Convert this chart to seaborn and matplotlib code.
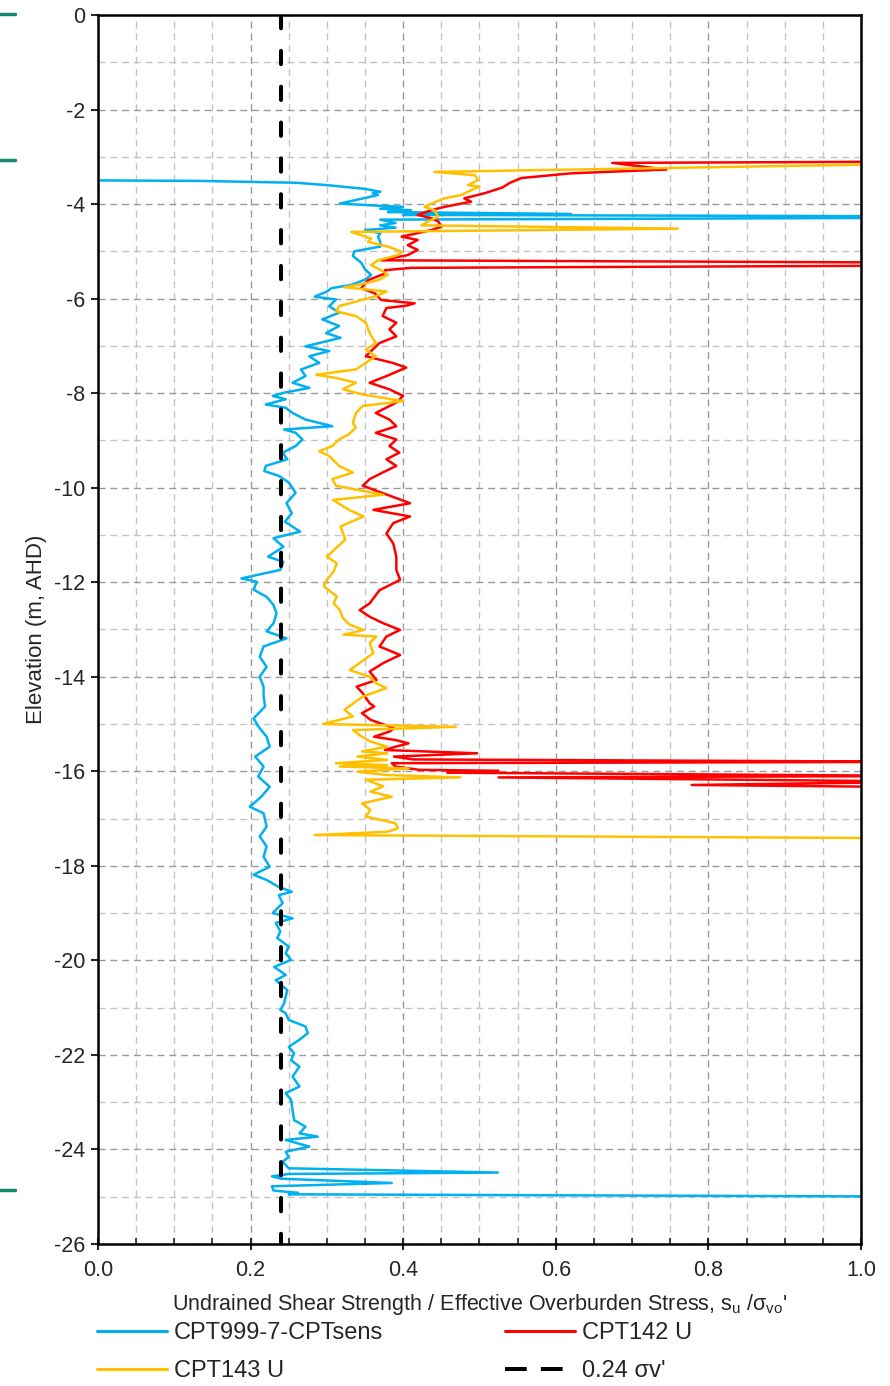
import matplotlib
matplotlib.use("Agg")
import matplotlib.pyplot as plt
import seaborn as sns
from matplotlib.lines import Line2D
from matplotlib.ticker import MultipleLocator

# --- Дані ---

blue_su = [0.00, 0.13, 0.26, 0.30, 0.35, 0.37, 0.36, 0.367, 0.317, 0.36, 0.40, 0.37, 0.41, 0.38,
           0.62, 0.40, 1.10, 1.10, 0.37, 0.39, 0.37, 0.39, 0.35, 0.37, 0.367, 0.37, 0.37, 0.336,
           0.334, 0.345, 0.35, 0.358, 0.35, 0.332, 0.306, 0.30, 0.284, 0.312, 0.303, 0.316, 0.294,
           0.316, 0.299, 0.318, 0.272, 0.303, 0.277, 0.290, 0.266, 0.272, 0.255, 0.277, 0.244, 0.229,
           0.246, 0.220, 0.246, 0.255, 0.272, 0.307, 0.244, 0.259, 0.268, 0.259, 0.242, 0.248, 0.220,
           0.218, 0.237, 0.250, 0.259, 0.247, 0.254, 0.245, 0.265, 0.230, 0.243, 0.223, 0.243, 0.239,
           0.188, 0.208, 0.204, 0.221, 0.230, 0.234, 0.230, 0.221, 0.247, 0.217, 0.212, 0.221, 0.212,
           0.217, 0.217, 0.219, 0.204, 0.210, 0.221, 0.225, 0.206, 0.217, 0.210, 0.225, 0.214, 0.199,
           0.217, 0.221, 0.212, 0.221, 0.217, 0.225, 0.204, 0.221, 0.236, 0.254, 0.237, 0.242, 0.229,
           0.255, 0.233, 0.239, 0.235, 0.250, 0.246, 0.253, 0.231, 0.246, 0.233, 0.248, 0.246, 0.244,
           0.239, 0.246, 0.250, 0.272, 0.275, 0.264, 0.250, 0.257, 0.253, 0.264, 0.255, 0.264, 0.246,
           0.253, 0.255, 0.257, 0.272, 0.264, 0.288, 0.246, 0.277, 0.246, 0.250, 0.242, 0.250, 0.524,
           0.250, 0.228, 0.240, 0.385, 0.228, 0.230, 0.262, 0.250, 1.10]
blue_elev = [-3.50, -3.51, -3.55, -3.60, -3.68, -3.74, -3.77, -3.81, -3.99, -4.03, -4.06, -4.10, -4.13, -4.17,
             -4.21, -4.23, -4.26, -4.29, -4.33, -4.40, -4.45, -4.50, -4.55, -4.62, -4.69, -4.80, -4.90, -5.00,
             -5.10, -5.24, -5.38, -5.50, -5.60, -5.71, -5.78, -5.85, -5.96, -6.02, -6.16, -6.30, -6.44,
             -6.58, -6.73, -6.83, -7.01, -7.11, -7.22, -7.36, -7.50, -7.64, -7.78, -7.89, -7.99, -8.06,
             -8.13, -8.24, -8.31, -8.42, -8.56, -8.70, -8.77, -8.84, -8.98, -9.12, -9.26, -9.40, -9.54,
             -9.65, -9.75, -9.89, -10.11, -10.33, -10.54, -10.72, -10.93, -11.07, -11.25, -11.46, -11.57, -11.74,
             -11.92, -11.99, -12.16, -12.31, -12.48, -12.66, -12.87, -13.04, -13.19, -13.36, -13.58, -13.79, -14.00,
             -14.21, -14.42, -14.63, -14.88, -15.05, -15.27, -15.48, -15.69, -15.90, -16.11, -16.33, -16.54, -16.75,
             -16.89, -17.17, -17.38, -17.59, -17.81, -18.02, -18.19, -18.30, -18.44, -18.55, -18.62, -18.79, -19.00,
             -19.11, -19.21, -19.39, -19.53, -19.71, -19.85, -19.99, -20.14, -20.31, -20.42, -20.63, -20.77, -20.91,
             -21.05, -21.12, -21.26, -21.40, -21.54, -21.68, -21.83, -21.97, -22.11, -22.25, -22.46, -22.67, -22.81,
             -22.95, -23.17, -23.38, -23.52, -23.66, -23.73, -23.80, -23.94, -24.05, -24.16, -24.26, -24.40, -24.49,
             -24.52, -24.57, -24.62, -24.71, -24.78, -24.87, -24.92, -24.95, -25.00]

red_su = [1.10, 0.674, 0.745, 0.62, 0.555, 0.54, 0.53, 0.507, 0.48, 0.489, 0.454, 0.437, 0.419, 0.437,
          0.446, 0.45, 0.437, 0.398, 0.419, 0.406, 0.419, 0.406, 0.371, 1.10, 1.10, 0.41, 0.376, 0.376,
          0.354, 0.345, 0.363, 0.371, 0.415, 0.404, 0.378, 0.373, 0.391, 0.382, 0.391, 0.369, 0.360,
          0.351, 0.386, 0.404, 0.378, 0.356, 0.382, 0.400, 0.391, 0.364, 0.382, 0.391, 0.364, 0.391,
          0.382, 0.395, 0.378, 0.391, 0.373, 0.356, 0.347, 0.374, 0.409, 0.361, 0.409, 0.387, 0.378,
          0.387, 0.391, 0.391, 0.396, 0.369, 0.356, 0.343, 0.356, 0.374, 0.396, 0.378, 0.369, 0.396,
          0.374, 0.356, 0.365, 0.339, 0.347, 0.356, 0.362, 0.346, 0.357, 0.374, 0.388, 0.382, 0.362,
          0.390, 0.407, 0.390, 0.376, 0.497, 0.388, 0.413, 1.10, 0.385, 0.390, 0.421, 0.525, 0.458,
          1.10, 0.525, 1.10, 0.778, 1.10]
red_elev = [-3.10, -3.13, -3.27, -3.35, -3.45, -3.55, -3.65, -3.77, -3.88, -3.95, -4.06, -4.13, -4.23, -4.30,
            -4.37, -4.48, -4.55, -4.69, -4.76, -4.87, -4.97, -5.08, -5.19, -5.24, -5.30, -5.35, -5.40, -5.47,
            -5.61, -5.78, -5.89, -6.03, -6.10, -6.15, -6.20, -6.37, -6.51, -6.65, -6.80, -6.94, -7.08,
            -7.22, -7.36, -7.46, -7.64, -7.78, -7.92, -8.06, -8.20, -8.42, -8.56, -8.70, -8.84, -8.98,
            -9.12, -9.26, -9.40, -9.54, -9.68, -9.82, -9.96, -10.12, -10.33, -10.47, -10.61, -10.75, -10.97,
            -11.18, -11.46, -11.74, -11.95, -12.17, -12.45, -12.59, -12.73, -12.87, -13.01, -13.15, -13.36, -13.54,
            -13.71, -13.89, -14.07, -14.21, -14.35, -14.56, -14.63, -14.77, -14.91, -15.01, -15.09, -15.16, -15.27,
            -15.34, -15.41, -15.48, -15.55, -15.62, -15.69, -15.75, -15.80, -15.83, -15.90, -15.97, -15.99, -16.03,
            -16.10, -16.13, -16.22, -16.29, -16.34]

yellow_su = [1.10, 0.441, 0.494, 0.498, 0.485, 0.50, 0.485, 0.476, 0.454, 0.437, 0.428, 0.441, 0.446,
             0.432, 0.424, 0.76, 0.332, 0.345, 0.358, 0.354, 0.38, 0.398, 0.393, 0.367, 0.358, 0.371,
             0.38, 0.367, 0.35, 0.323, 0.378, 0.364, 0.316, 0.312, 0.338, 0.351, 0.356, 0.364, 0.351,
             0.364, 0.351, 0.338, 0.286, 0.312, 0.338, 0.321, 0.347, 0.400, 0.347, 0.338, 0.334, 0.338,
             0.329, 0.316, 0.307, 0.290, 0.303, 0.316, 0.334, 0.307, 0.312, 0.374, 0.308, 0.329, 0.348,
             0.318, 0.324, 0.300, 0.313, 0.309, 0.300, 0.296, 0.313, 0.309, 0.317, 0.321, 0.330, 0.348,
             0.322, 0.365, 0.356, 0.361, 0.348, 0.330, 0.356, 0.365, 0.378, 0.347, 0.323, 0.334, 0.317,
             0.295, 0.469, 0.334, 0.346, 0.357, 0.379, 0.346, 0.379, 0.340, 0.379, 0.312, 0.379, 0.317,
             0.407, 0.340, 0.379, 0.475, 0.351, 0.374, 0.357, 0.385, 0.346, 0.357, 0.351, 0.390, 0.393,
             0.379, 0.284, 1.10]
yellow_elev = [-3.14, -3.32, -3.39, -3.49, -3.60, -3.63, -3.74, -3.81, -3.88, -3.99, -4.06, -4.13, -4.27,
               -4.37, -4.45, -4.52, -4.59, -4.66, -4.73, -4.80, -4.90, -5.01, -5.08, -5.19, -5.29, -5.40,
               -5.50, -5.61, -5.68, -5.76, -5.85, -5.95, -6.16, -6.27, -6.37, -6.51, -6.73, -6.94, -7.08,
               -7.22, -7.36, -7.50, -7.61, -7.68, -7.78, -7.92, -8.03, -8.17, -8.27, -8.42, -8.63, -8.73,
               -8.87, -8.98, -9.12, -9.23, -9.33, -9.54, -9.68, -9.82, -9.96, -10.15, -10.26, -10.47, -10.61,
               -10.82, -11.10, -11.46, -11.60, -11.77, -11.95, -12.09, -12.30, -12.45, -12.59, -12.76, -12.90, -13.01,
               -13.11, -13.15, -13.29, -13.50, -13.65, -13.86, -14.00, -14.14, -14.24, -14.42, -14.70, -14.84, -14.91,
               -15.00, -15.06, -15.13, -15.27, -15.37, -15.48, -15.58, -15.62, -15.69, -15.76, -15.83, -15.87, -15.90,
               -15.94, -16.01, -16.08, -16.13, -16.18, -16.32, -16.43, -16.54, -16.68, -16.82, -16.96, -17.10, -17.21,
               -17.28, -17.35, -17.42]

ref_su = [0.24, 0.24]
ref_elev = [0.0, -26.0]

series_names = ['CPT999-7-CPTsens', 'CPT142 U', 'CPT143 U', "0.24 σv'"]
series_colors = ['#00B0F0', '#FF0000', '#FFC000', 'black']

# --- Візуалізація ---

sns.set_style('white')
plt.rcParams['font.family'] = ['Liberation Sans', 'DejaVu Sans']
plt.rcParams['axes.unicode_minus'] = False
plt.rcParams['mathtext.fontset'] = 'custom'
plt.rcParams['mathtext.rm'] = 'Liberation Sans'

fig = plt.figure(figsize=(8.9, 13.86), dpi=100)
ax = fig.add_axes([0.1101, 0.1025, 0.8573, 0.8867])

sns.lineplot(x=blue_su, y=blue_elev, sort=False, estimator=None, color=series_colors[0],
             lw=1.8, ax=ax)
sns.lineplot(x=red_su, y=red_elev, sort=False, estimator=None, color=series_colors[1],
             lw=1.8, ax=ax)
sns.lineplot(x=yellow_su, y=yellow_elev, sort=False, estimator=None, color=series_colors[2],
             lw=1.8, ax=ax)
sns.lineplot(x=ref_su, y=ref_elev, sort=False, estimator=None, color=series_colors[3],
             lw=2.9, linestyle=(0, (3.3, 5.6)), dash_capstyle='round', ax=ax)

ax.set_xlim(0, 1)
ax.set_ylim(-26, 0)
ax.xaxis.set_major_locator(MultipleLocator(0.2))
ax.xaxis.set_minor_locator(MultipleLocator(0.05))
ax.yaxis.set_major_locator(MultipleLocator(2))
ax.yaxis.set_minor_locator(MultipleLocator(1))
ax.set_xticklabels([f'{v:.1f}' for v in ax.get_xticks()])
ax.set_yticklabels([f'{v:.0f}' for v in ax.get_yticks()])

ax.grid(which='major', color='#999999', linestyle=(0, (5, 3.5)), lw=1.0)
ax.grid(which='minor', color='#c4c4c4', linestyle=(0, (5, 3.5)), lw=1.0)
ax.set_axisbelow(True)

for s in ax.spines.values():
    s.set_color('black')
    s.set_linewidth(1.8)

ax.tick_params(axis='x', which='major', direction='inout', length=9, width=1.5,
               labelsize=15.5, pad=7, bottom=True)
ax.tick_params(axis='x', which='minor', direction='in', length=4, width=1.2, bottom=True)
ax.tick_params(axis='y', which='major', direction='out', length=5, width=1.5,
               labelsize=15.5, pad=4, left=True)
ax.tick_params(axis='y', which='minor', left=False)

ax.set_xlabel(r"Undrained Shear Strength / Effective Overburden Stress, s$_\mathregular{u}$ /σ$_\mathregular{vo}$'",
              fontsize=15.5, labelpad=8)
ax.set_ylabel('Elevation (m, AHD)', fontsize=16, labelpad=5)

# легенда: дві колонки, кожна окремо
leg_lines = [Line2D([], [], color=c, lw=2.2) for c in series_colors[:3]]
leg_lines.append(Line2D([], [], color='black', lw=2.9, linestyle=(0, (5.4, 3.5)),
                        dash_capstyle='butt'))
leg_kw = dict(loc='upper left', frameon=False, fontsize=17, handlelength=2.95,
              handletextpad=0.3, labelspacing=0.68, borderpad=0, borderaxespad=0)
fig.legend([leg_lines[0], leg_lines[2]], [series_names[0], series_names[2]],
           bbox_to_anchor=(97 / 890, 1 - 1322 / 1386), **leg_kw)
fig.legend([leg_lines[1], leg_lines[3]], [series_names[1], series_names[3]],
           bbox_to_anchor=(505 / 890, 1 - 1322 / 1386), **leg_kw)

# краї сусіднього логотипу зліва
for yy in [14, 160, 1190]:
    fig.add_artist(Line2D([0, 15 / 890], [1 - yy / 1386, 1 - yy / 1386],
                          color='#17876B', lw=2.5, transform=fig.transFigure))

fig.savefig('out.png', dpi=100)
plt.close(fig)
